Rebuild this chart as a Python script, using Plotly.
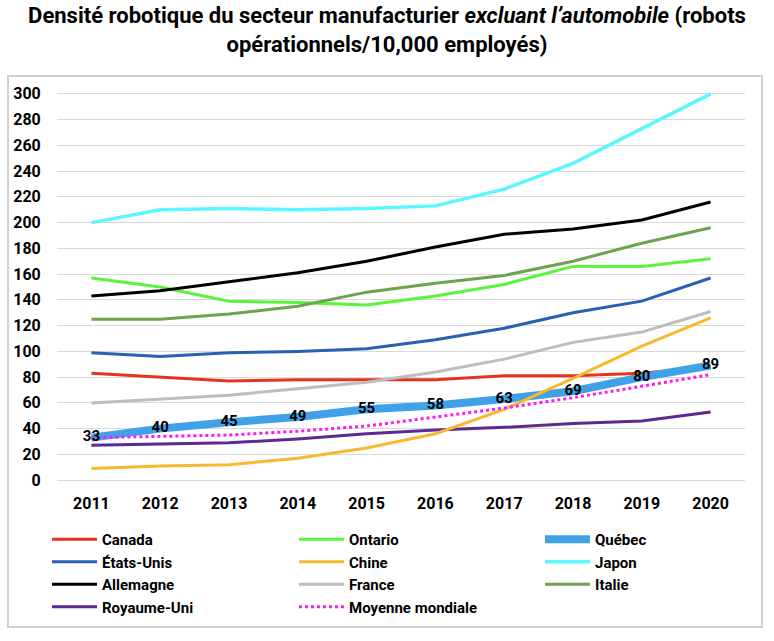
import plotly.graph_objects as go

years = [2011, 2012, 2013, 2014, 2015, 2016, 2017, 2018, 2019, 2020]

canada = [83, 80, 77, 78, 78, 78, 81, 81, 83, 88]
ontario = [157, 150, 139, 138, 136, 143, 152, 166, 166, 172]
quebec = [33, 40, 45, 49, 55, 58, 63, 69, 80, 89]
etats_unis = [99, 96, 99, 100, 102, 109, 118, 130, 139, 157]
chine = [9, 11, 12, 17, 25, 36, 55, 79, 104, 126]
japon = [200, 210, 211, 210, 211, 213, 226, 246, 273, 300]
allemagne = [143, 147, 154, 161, 170, 181, 191, 195, 202, 216]
france = [60, 63, 66, 71, 76, 84, 94, 107, 115, 131]
italie = [125, 125, 129, 135, 146, 153, 159, 170, 184, 196]
royaume_uni = [27, 28, 29, 32, 36, 39, 41, 44, 46, 53]
moyenne = [33, 34, 35, 38, 42, 49, 56, 64, 73, 82]

y_ticks = list(range(0, 301, 20))

W, H = 774, 641
L, R, T, B = 57, 745, 90, 484
FONT = "Roboto"

def px_x(p):
    return (p - L) / (R - L)

def px_y(p):
    return (B - p) / (B - T)

# (name, data, color, width, dash, legend, rank)
series = [
    ("Canada", canada, "#e8321e", 3, "solid", "legend", 1),
    ("Ontario", ontario, "#5af53a", 3, "solid", "legend2", 2),
    ("États-Unis", etats_unis, "#2b5fb3", 3, "solid", "legend", 4),
    ("Japon", japon, "#5cf7fb", 3.5, "solid", "legend3", 6),
    ("Allemagne", allemagne, "#000000", 3, "solid", "legend", 7),
    ("France", france, "#bdbdbd", 3, "solid", "legend2", 8),
    ("Italie", italie, "#6da34d", 3, "solid", "legend3", 9),
    ("Royaume-Uni", royaume_uni, "#5e2a91", 3, "solid", "legend", 10),
    ("Québec", quebec, "#3fa2e6", 8, "solid", "legend3", 3),
    ("Chine", chine, "#f8b930", 3, "solid", "legend2", 5),
    ("Moyenne mondiale", moyenne, "#ff1af5", 3, "dot", "legend2", 11),
]

fig = go.Figure()
for name, data, color, width, dash, leg, rank in series:
    fig.add_trace(go.Scatter(
        x=years, y=data, mode="lines", name=name,
        line=dict(color=color, width=width, dash=dash),
        legend=leg, legendrank=rank, hoverinfo="x+y+name",
    ))

fig.add_trace(go.Scatter(
    x=years, y=quebec, mode="text", text=[str(v) for v in quebec],
    textposition="middle center",
    textfont=dict(family=FONT, size=15, color="#000000", weight="bold"),
    showlegend=False, hoverinfo="skip",
))

leg_common = dict(
    orientation="v", xanchor="left", yanchor="top",
    xref="container", yref="container",
    font=dict(family=FONT, size=15, color="#000000", weight="bold"),
    bgcolor="rgba(0,0,0,0)", tracegroupgap=0, traceorder="normal",
    itemwidth=45,
)
leg_top = 1 - 523 / H

fig.update_layout(
    width=W, height=H,
    margin=dict(l=L, r=W - R, t=T, b=H - B, pad=0, autoexpand=False),
    paper_bgcolor="#ffffff", plot_bgcolor="#ffffff",
    title=dict(
        text="Densité robotique du secteur manufacturier <i>excluant l’automobile</i> (robots<br>opérationnels/10,000 employés)",
        x=0.5, xanchor="center", xref="container",
        y=1 - 23 / H, yanchor="top", yref="container",
        font=dict(family=FONT, size=22, color="#000000", weight="bold"),
    ),
    xaxis=dict(
        range=[2010.5, 2020.5], tickvals=years, ticktext=[str(y) for y in years],
        showgrid=False, zeroline=False, showline=False,
        ticks="outside", ticklen=5, tickcolor="rgba(0,0,0,0)",
        tickfont=dict(family=FONT, size=16, color="#000000", weight="bold"),
    ),
    yaxis=dict(
        range=[-3, 303], tickvals=y_ticks,
        showgrid=True, gridcolor="#d9d9d9", gridwidth=1,
        zeroline=False, showline=False,
        ticks="outside", ticklen=12, tickcolor="rgba(0,0,0,0)",
        tickfont=dict(family=FONT, size=16, color="#000000", weight="bold"),
    ),
    legend=dict(x=47 / W, y=leg_top, **leg_common),
    legend2=dict(x=294 / W, y=leg_top, **leg_common),
    legend3=dict(x=540 / W, y=leg_top, **leg_common),
    showlegend=True,
    shapes=[dict(
        type="rect", xref="paper", yref="paper",
        x0=px_x(8), x1=px_x(762), y0=px_y(627), y1=px_y(76),
        line=dict(color="#d0d0d0", width=2), fillcolor="rgba(0,0,0,0)",
        layer="above",
    )],
)

fig.write_html(
    "out.html",
    config={"displayModeBar": False},
    post_script="document.body.style.margin='0';",
)
